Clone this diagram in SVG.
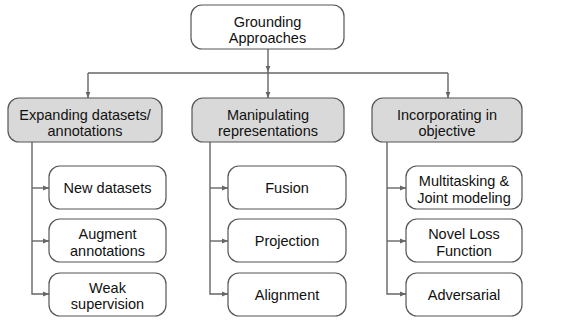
<svg xmlns="http://www.w3.org/2000/svg" width="565" height="320" viewBox="0 0 565 320">
<defs>
<marker id="ah" viewBox="0 0 10 10" refX="10" refY="5" markerWidth="6" markerHeight="6" markerUnits="userSpaceOnUse" orient="auto">
<path d="M0,1 L10,5 L0,9 Z" fill="#666"/>
</marker>
<style>
.box{fill:#fff;stroke:#555;stroke-width:1.2}
.cat{fill:#d9d9d9;stroke:#555;stroke-width:1.2}
.t{font-family:"Liberation Sans",Arial,sans-serif;font-size:14.5px;fill:#111;text-anchor:middle}
.c{fill:none;stroke:#666;stroke-width:1.4}
</style>
</defs>
<rect width="565" height="320" fill="#fff"/>
<g id="connectors">
<path class="c" d="M268,49 V72" marker-end="url(#ah)"/>
<path class="c" d="M268,72 V98" marker-end="url(#ah)"/>
<path class="c" d="M88,73 H448"/>
<path class="c" d="M88,73 V98" marker-end="url(#ah)"/>
<path class="c" d="M448,73 V98" marker-end="url(#ah)"/>
<path class="c" d="M32,142 V294 H49" marker-end="url(#ah)"/>
<path class="c" d="M32,188 H49" marker-end="url(#ah)"/>
<path class="c" d="M32,241 H49" marker-end="url(#ah)"/>
<path class="c" d="M210,142 V294 H228" marker-end="url(#ah)"/>
<path class="c" d="M210,188 H228" marker-end="url(#ah)"/>
<path class="c" d="M210,241 H228" marker-end="url(#ah)"/>
<path class="c" d="M387,142 V294 H406" marker-end="url(#ah)"/>
<path class="c" d="M387,188 H406" marker-end="url(#ah)"/>
<path class="c" d="M387,241 H406" marker-end="url(#ah)"/>
</g>
<g id="root"><rect class="box" x="191" y="5" width="153" height="44" rx="11"/><text class="t" x="267.5" y="26.5">Grounding</text><text class="t" x="267.5" y="42.5">Approaches</text></g>
<g id="cat1"><rect class="cat" x="8" y="98" width="154" height="44" rx="11"/><text class="t" x="85" y="120">Expanding datasets/</text><text class="t" x="85" y="136">annotations</text></g>
<g id="cat2"><rect class="cat" x="192" y="98" width="152" height="44" rx="11"/><text class="t" x="268" y="120">Manipulating</text><text class="t" x="268" y="136">representations</text></g>
<g id="cat3"><rect class="cat" x="372" y="98" width="150" height="44" rx="11"/><text class="t" x="447" y="120">Incorporating in</text><text class="t" x="447" y="136">objective</text></g>
<g id="leaf1"><rect class="box" x="49" y="166" width="117" height="43" rx="11"/><text class="t" x="107.5" y="193">New datasets</text></g>
<g id="leaf2"><rect class="box" x="49" y="219" width="117" height="43" rx="11"/><text class="t" x="107.5" y="239">Augment</text><text class="t" x="107.5" y="255.5">annotations</text></g>
<g id="leaf3"><rect class="box" x="49" y="273" width="117" height="43" rx="11"/><text class="t" x="107.5" y="292.5">Weak</text><text class="t" x="107.5" y="309">supervision</text></g>
<g id="leaf4"><rect class="box" x="228" y="166" width="118" height="43" rx="11"/><text class="t" x="287" y="193">Fusion</text></g>
<g id="leaf5"><rect class="box" x="228" y="219" width="118" height="43" rx="11"/><text class="t" x="287" y="246">Projection</text></g>
<g id="leaf6"><rect class="box" x="228" y="273" width="118" height="43" rx="11"/><text class="t" x="287" y="299.5">Alignment</text></g>
<g id="leaf7"><rect class="box" x="406" y="166" width="116" height="43" rx="11"/><text class="t" x="464" y="186">Multitasking &amp;</text><text class="t" x="464" y="202.5">Joint modeling</text></g>
<g id="leaf8"><rect class="box" x="406" y="219" width="116" height="43" rx="11"/><text class="t" x="464" y="239">Novel Loss</text><text class="t" x="464" y="255.5">Function</text></g>
<g id="leaf9"><rect class="box" x="406" y="273" width="116" height="43" rx="11"/><text class="t" x="464" y="299.5">Adversarial</text></g>
</svg>
